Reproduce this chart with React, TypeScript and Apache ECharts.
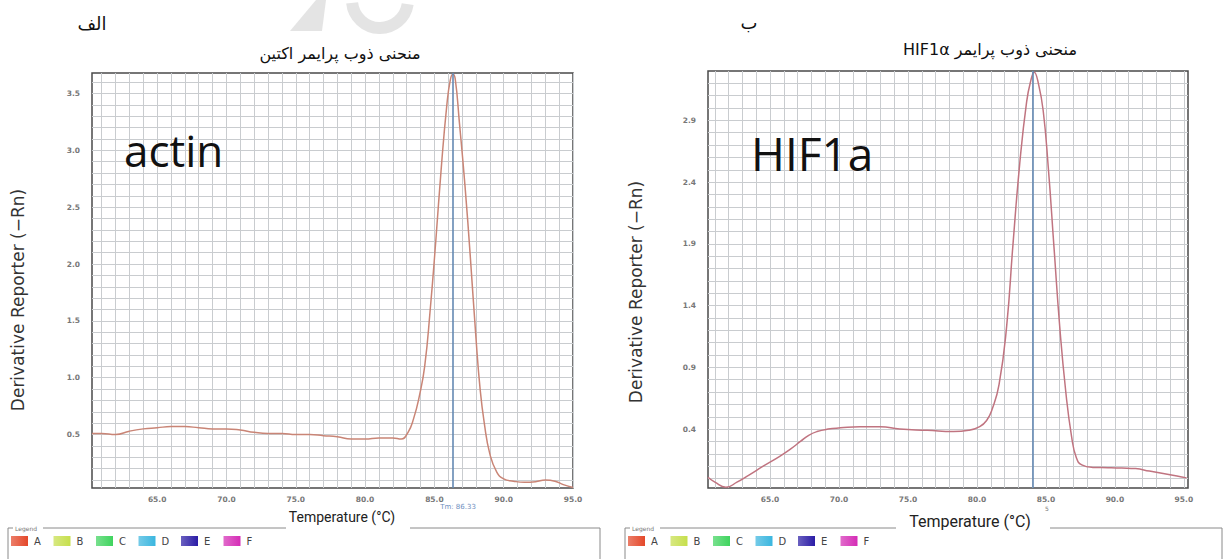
import React, { useEffect, useRef } from "react";
import * as echarts from "echarts";

// ---------- data ----------
const tempLabels = [65, 70, 75, 80, 85, 90, 95];
const actinYLabels = [0.5, 1.0, 1.5, 2.0, 2.5, 3.0, 3.5];
const hifYLabels = [0.4, 0.9, 1.4, 1.9, 2.4, 2.9];

const actinCurve: [number, number][] = [
  [60.3, 0.51], [61, 0.51], [62, 0.5], [63, 0.53], [64, 0.55], [65, 0.56],
  [66, 0.57], [67, 0.57], [68, 0.56], [69, 0.55], [70, 0.55], [71, 0.54],
  [72, 0.52], [73, 0.51], [74, 0.51], [75, 0.5], [76, 0.5], [77, 0.49],
  [78, 0.48], [79, 0.46], [80, 0.46], [81, 0.47], [82, 0.47], [82.6, 0.46],
  [83.1, 0.52], [83.5, 0.64], [83.9, 0.83], [84.3, 1.1], [84.7, 1.6],
  [85.1, 2.2], [85.5, 2.85], [85.9, 3.4], [86.15, 3.62], [86.33, 3.67],
  [86.5, 3.63], [86.8, 3.25], [87.2, 2.7], [87.6, 2.05], [88.0, 1.35],
  [88.3, 0.9], [88.6, 0.6], [89.0, 0.33], [89.5, 0.17], [90.0, 0.11],
  [90.7, 0.09], [91.5, 0.08], [92.3, 0.085], [93.0, 0.1], [93.7, 0.09],
  [94.3, 0.06], [95, 0.035],
];

const hifCurve: [number, number][] = [
  [60.5, 0.01], [61.0, -0.03], [61.8, -0.07], [62.6, -0.03], [63.5, 0.03],
  [64.5, 0.1], [65.7, 0.18], [66.5, 0.24], [67.2, 0.3], [67.8, 0.35],
  [68.4, 0.38], [69.2, 0.4], [70.1, 0.41], [71.5, 0.42], [73.0, 0.42],
  [74.4, 0.4], [76.4, 0.39], [78.3, 0.38], [79.4, 0.39], [80.2, 0.42],
  [80.7, 0.47], [81.1, 0.56], [81.6, 0.76], [82.15, 1.23], [82.6, 1.88],
  [83.1, 2.55], [83.6, 3.05], [83.9, 3.22], [84.15, 3.29], [84.45, 3.2],
  [84.8, 2.98], [85.17, 2.52], [85.58, 1.88], [86.0, 1.23], [86.45, 0.69],
  [86.86, 0.34], [87.2, 0.17], [87.6, 0.11], [88.4, 0.09], [89.5, 0.088],
  [90.5, 0.085], [91.5, 0.08], [92.5, 0.06], [93.5, 0.04], [94.5, 0.02],
  [95.2, 0.005],
];

const tmValues = [86.33, 84.05];
const tmTexts = ["Tm: 86.33", "5"];
const panelLetters = ["الف", "ب"];
const panelTitles = ["منحنی ذوب پرایمر اکتین", "منحنی ذوب پرایمر HIF1α"];
const geneLabels = ["actin", "HIF1a"];
const legendLetters = ["A", "B", "C", "D", "E", "F"];
const legendColors = ["#e4482a", "#c6df4c", "#3fd45e", "#3ab6df", "#2b1ca6", "#d52cb6"];

// ---------- helpers ----------
const range = (from: number, to: number, step: number) => {
  const out: number[] = [];
  for (let k = Math.round(from / step); k <= Math.round(to / step); k++) {
    out.push(Math.round(k * step * 1000) / 1000);
  }
  return out;
};

const RLE = "\u202B";
const PDF = "\u202C";

const GRID_COLOR = "#c9cccf";
const tickLabelStyle = {
  fontSize: 7.5,
  color: "#777",
  fontFamily: "DejaVu Sans",
  fontWeight: "bold" as const,
};

function xAxisFor(gridIndex: number, min: number, max: number) {
  return {
    type: "value",
    gridIndex,
    min,
    max,
    axisLine: { show: false },
    axisTick: { show: false, customValues: range(61, 95, 1) },
    axisLabel: {
      ...tickLabelStyle,
      customValues: tempLabels,
      margin: 7,
      formatter: (v: number) => v.toFixed(1),
    },
    splitLine: { show: true, lineStyle: { color: GRID_COLOR, width: 1 } },
  };
}

function yAxisFor(gridIndex: number, min: number, max: number, labels: number[], lines: number[]) {
  return {
    type: "value",
    gridIndex,
    min,
    max,
    axisLine: { show: false },
    axisTick: { show: false, customValues: lines },
    axisLabel: {
      ...tickLabelStyle,
      customValues: labels,
      margin: 12,
      formatter: (v: number) => v.toFixed(1),
    },
    splitLine: { show: true, lineStyle: { color: GRID_COLOR, width: 1 } },
  };
}

function curveSeries(idx: number, data: [number, number][], color: string) {
  return {
    type: "line",
    xAxisIndex: idx,
    yAxisIndex: idx,
    data,
    smooth: 0.5,
    showSymbol: false,
    z: 4,
    lineStyle: { color, width: 1.5 },
    markLine: {
      symbol: "none",
      silent: true,
      label: { show: false },
      lineStyle: { color: "#6489b3", width: 1.6, type: "solid" },
      data: [{ xAxis: tmValues[idx] }],
    },
  };
}

function legendGraphics(x0: number, right: number, gapFrom: number, gapTo: number) {
  const els: any[] = [];
  const frameColor = "#8a8a8a";
  els.push({
    type: "polyline",
    shape: { points: [[x0, 559], [x0, 528], [x0 + 5, 528]] },
    style: { stroke: frameColor, lineWidth: 1, fill: null },
  });
  els.push({
    type: "text",
    x: x0 + 7,
    y: 528,
    style: { text: "Legend", fontSize: 6, fill: "#777", fontFamily: "DejaVu Sans", verticalAlign: "middle" },
  });
  els.push({
    type: "line",
    shape: { x1: x0 + 35, y1: 528, x2: gapFrom, y2: 528 },
    style: { stroke: frameColor, lineWidth: 1 },
  });
  els.push({
    type: "polyline",
    shape: { points: [[gapTo, 528], [right, 528], [right, 559]] },
    style: { stroke: frameColor, lineWidth: 1, fill: null },
  });
  legendLetters.forEach((L, i) => {
    const sx = x0 + 3 + i * 42.5;
    els.push({
      type: "rect",
      shape: { x: sx, y: 536, width: 17, height: 10 },
      style: {
        fill: new echarts.graphic.LinearGradient(0, 0, 1, 0, [
          { offset: 0, color: echarts.color.lift(legendColors[i], 0.3) },
          { offset: 1, color: legendColors[i] },
        ]),
      },
    });
    els.push({
      type: "text",
      x: sx + 23,
      y: 541,
      style: { text: L, fontSize: 10, fill: "#444", fontFamily: "DejaVu Sans", verticalAlign: "middle" },
    });
  });
  return els;
}

export default function App() {
  const ref = useRef<HTMLDivElement>(null);

  useEffect(() => {
    if (!ref.current) return;
    const chart = echarts.init(ref.current, undefined, { renderer: "svg" });

    const textBase = { fontFamily: "DejaVu Sans", fill: "#111" };

    const graphics: any[] = [
      // faint watermark
      {
        type: "polygon",
        shape: { points: [[290, 31], [316, 0], [326, 0], [322, 31]] },
        style: { fill: "#e4e4e4" },
        z: 0,
      },
      {
        type: "arc",
        shape: { cx: 380, cy: 0, r: 28, startAngle: 0.15, endAngle: Math.PI - 0.1, clockwise: true },
        style: { stroke: "#e4e4e4", lineWidth: 12, fill: null },
        z: 0,
      },
      // panel letters
      { type: "text", x: 92, y: 23, style: { ...textBase, text: panelLetters[0], fontSize: 18, align: "center", verticalAlign: "middle" } },
      { type: "text", x: 749, y: 22, style: { ...textBase, text: panelLetters[1], fontSize: 18, align: "center", verticalAlign: "middle" } },
      // titles
      { type: "text", x: 340, y: 53, style: { ...textBase, text: RLE + panelTitles[0] + PDF, fontSize: 16, align: "center", verticalAlign: "middle" } },
      { type: "text", x: 990, y: 49, style: { ...textBase, text: RLE + panelTitles[1] + PDF, fontSize: 16, align: "center", verticalAlign: "middle" } },
      // gene labels
      { type: "text", x: 124, y: 150, z: 10, style: { text: geneLabels[0], fontSize: 44, fontFamily: "Open Sans", fill: "#111", verticalAlign: "middle" } },
      { type: "text", x: 751, y: 153, z: 10, style: { text: geneLabels[1], fontSize: 46, fontFamily: "Open Sans", fill: "#111", verticalAlign: "middle" } },
      // y axis names
      {
        type: "text", x: 18, y: 300, rotation: Math.PI / 2,
        style: { ...textBase, fill: "#333", text: "Derivative Reporter (−Rn)", fontSize: 17, align: "center", verticalAlign: "middle" },
      },
      {
        type: "text", x: 636, y: 292, rotation: Math.PI / 2,
        style: { ...textBase, fill: "#333", text: "Derivative Reporter (−Rn)", fontSize: 17, align: "center", verticalAlign: "middle" },
      },
      // x axis names
      { type: "text", x: 342, y: 517, style: { text: "Temperature (°C)", fontSize: 14, fontFamily: "Roboto", fill: "#222", align: "center", verticalAlign: "middle" } },
      { type: "text", x: 970, y: 521, style: { text: "Temperature (°C)", fontSize: 16, fontFamily: "Roboto", fill: "#222", align: "center", verticalAlign: "middle" } },
      // Tm annotations
      { type: "text", x: 458, y: 507, style: { text: tmTexts[0], fontSize: 7, fontFamily: "DejaVu Sans", fill: "#6f8fc0", align: "center", verticalAlign: "middle" } },
      { type: "text", x: 1047, y: 508, style: { text: tmTexts[1], fontSize: 6, fontFamily: "DejaVu Sans", fill: "#777", align: "center", verticalAlign: "middle" } },
      ...legendGraphics(8, 600, 286, 410),
      ...legendGraphics(625, 1222, 896, 1050),
    ];

    chart.setOption({
      animation: false,
      backgroundColor: "#ffffff",
      grid: [
        { left: 92, top: 73, width: 481, height: 415, show: true, borderColor: "#4a4a4a", borderWidth: 1.5, backgroundColor: "transparent" },
        { left: 708, top: 71, width: 480, height: 417, show: true, borderColor: "#4a4a4a", borderWidth: 1.5, backgroundColor: "transparent" },
      ],
      xAxis: [xAxisFor(0, 60.3, 95), xAxisFor(1, 60.5, 95.3)],
      yAxis: [
        yAxisFor(0, 0.03, 3.68, actinYLabels, range(0.1, 3.6, 0.1)),
        yAxisFor(1, -0.077, 3.3, hifYLabels, range(0, 3.2, 0.1)),
      ],
      series: [
        curveSeries(0, actinCurve, "#c98576"),
        curveSeries(1, hifCurve, "#c07480"),
      ],
      graphic: graphics,
    });

    return () => chart.dispose();
  }, []);

  return (
    <div
      ref={ref}
      style={{ position: "absolute", left: 0, top: 0, width: 1223, height: 559 }}
    />
  );
}
